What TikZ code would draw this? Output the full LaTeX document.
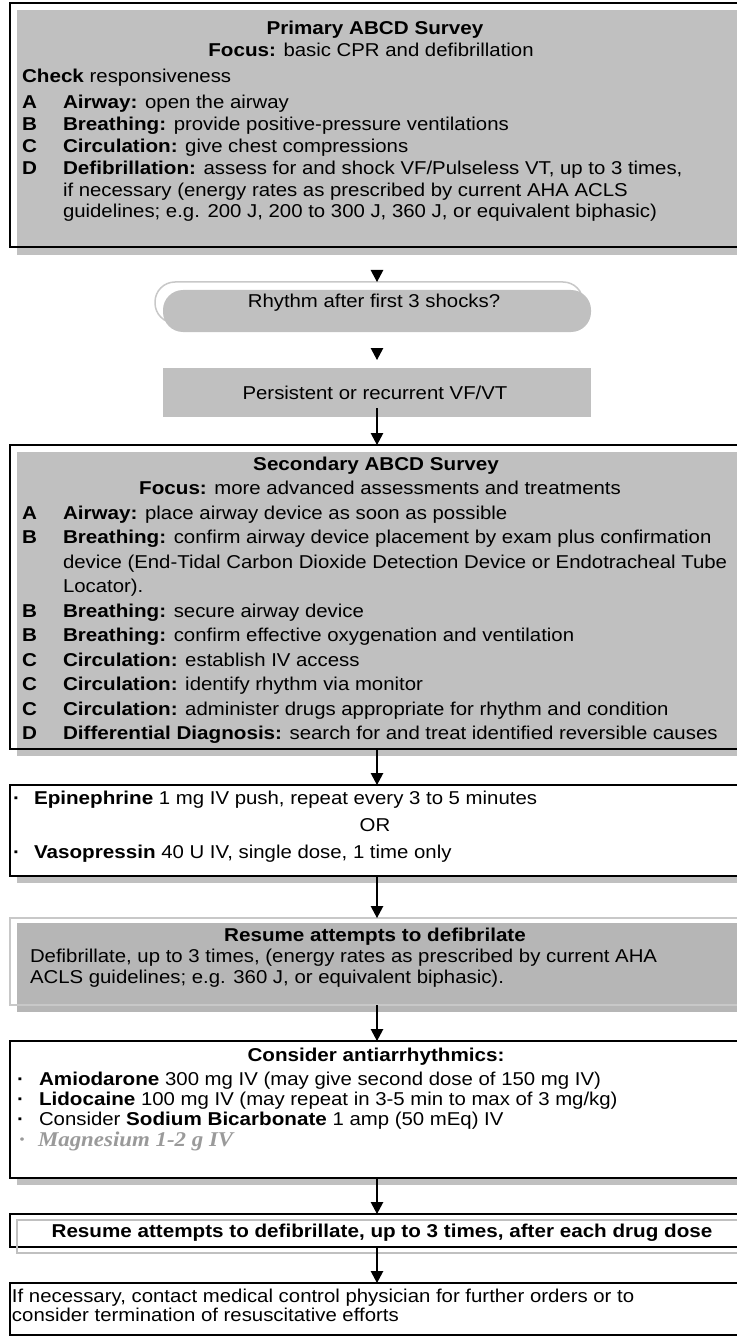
\documentclass[tikz,border=0pt]{standalone}
\usepackage{fontspec}
\setmainfont{Liberation Sans}[FakeStretch=1.095, BoldFeatures={FakeStretch=1.11}]
\newfontfamily\mgfont{Liberation Serif}[FakeStretch=1.09]
\usetikzlibrary{arrows.meta}
\definecolor{boxgray}{HTML}{C0C0C0}
\definecolor{boxgrayD}{HTML}{B6B6B6}
\definecolor{lightline}{HTML}{C8C8C8}
\definecolor{mggray}{HTML}{9A9A9A}
\begin{document}
\begin{tikzpicture}[x=1pt,y=-1pt,
  every node/.style={inner sep=0pt, outer sep=0pt},
  font=\fontsize{18.6}{22}\selectfont,
  bx/.style={draw=black, line width=2pt, anchor=north west},
  wbx/.style={bx, fill=white},
  ghost/.style={anchor=north west},
  txt/.style={anchor=base west},
  ctr/.style={anchor=base},
  conn/.style={line width=1.1pt, -{Triangle[length=12pt,width=12.5pt,color=black]}},
  tiponly/.style={conn, draw=white, shorten <=12pt},
  mg/.style={anchor=base west, text=mggray, font=\mgfont\fontsize{21}{24}\selectfont\bfseries\itshape}
]
\useasboundingbox (0,0) rectangle (736,1337);
\fill[white] (0,0) rectangle (736,1337);
\coordinate (ax) at (377,0);

% ---------- Primary ABCD Survey ----------
\fill[boxgray] (17,10) rectangle (750,255);
\node[bx, minimum width=740pt, minimum height=244pt] (prim) at (10,3) {};
\node[ctr] (p0) at (375,35) {\textbf{Primary ABCD Survey}};
\node[ctr] (p1) at (371,57) {\textbf{Focus:} basic CPR and defibrillation};
\node[txt] (p2) at (22,83) {\textbf{Check} responsiveness};
\node[txt] (pa) at (22,109) {\textbf{A}};
\node[txt] (pat) at (63,109) {\textbf{Airway:} open the airway};
\node[txt] (pb) at (22,131) {\textbf{B}};
\node[txt] (pbt) at (63,131) {\textbf{Breathing:} provide positive-pressure ventilations};
\node[txt] (pc) at (22,153) {\textbf{C}};
\node[txt] (pct) at (63,153) {\textbf{Circulation:} give chest compressions};
\node[txt] (pd) at (22,175) {\textbf{D}};
\node[txt] (pdt) at (63,175) {\textbf{Defibrillation:} assess for and shock VF/Pulseless VT, up to 3 times,};
\node[txt] (pd2) at (63,197) {if necessary (energy rates as prescribed by current AHA ACLS};
\node[txt] (pd3) at (63,218) {guidelines; e.g. 200 J, 200 to 300 J, 360 J, or equivalent biphasic)};

% ---------- Rhythm ----------
\node[draw=lightline, line width=1.5pt, rounded corners=20pt, anchor=north west,
      minimum width=428pt, minimum height=41pt] (rhy) at (155,282) {};
\fill[boxgray, rounded corners=20pt] (163,290) rectangle (591,332);
\node[ctr] (rhyT) at (374,308) {Rhythm after first 3 shocks?};

% ---------- Persistent ----------
\node[ghost, minimum width=428pt, minimum height=48pt] (pers) at (155,360) {};
\fill[boxgray] (163,368) rectangle (591,417);
\node[ctr] (persT) at (375,399) {Persistent or recurrent VF/VT};

% ---------- Secondary ABCD Survey ----------
\fill[boxgray] (17,452) rectangle (750,756);
\node[bx, minimum width=740pt, minimum height=304pt] (sec) at (10,445) {};
\node[ctr] (s0) at (376,470) {\textbf{Secondary ABCD Survey}};
\node[ctr] (s1) at (380,494.5) {\textbf{Focus:} more advanced assessments and treatments};
\node[txt] (sa) at (22,519) {\textbf{A}};
\node[txt] (sat) at (63,519) {\textbf{Airway:} place airway device as soon as possible};
\node[txt] (sb) at (22,543.5) {\textbf{B}};
\node[txt] (sbt) at (63,543.5) {\textbf{Breathing:} confirm airway device placement by exam plus confirmation};
\node[txt] (sb2) at (63,568) {device (End-Tidal Carbon Dioxide Detection Device or Endotracheal Tube};
\node[txt] (sb3) at (63,592.5) {Locator).};
\node[txt] (sc) at (22,617) {\textbf{B}};
\node[txt] (sct) at (63,617) {\textbf{Breathing:} secure airway device};
\node[txt] (sd) at (22,641.5) {\textbf{B}};
\node[txt] (sdt) at (63,641.5) {\textbf{Breathing:} confirm effective oxygenation and ventilation};
\node[txt] (se) at (22,666) {\textbf{C}};
\node[txt] (set) at (63,666) {\textbf{Circulation:} establish IV access};
\node[txt] (sf) at (22,690.5) {\textbf{C}};
\node[txt] (sft) at (63,690.5) {\textbf{Circulation:} identify rhythm via monitor};
\node[txt] (sg) at (22,715) {\textbf{C}};
\node[txt] (sgt) at (63,715) {\textbf{Circulation:} administer drugs appropriate for rhythm and condition};
\node[txt] (sh) at (22,739) {\textbf{D}};
\node[txt] (sht) at (63,739) {\textbf{Differential Diagnosis:} search for and treat identified reversible causes};

% ---------- Epinephrine / Vasopressin ----------
\fill[boxgray] (17,792) rectangle (750,883);
\node[wbx, minimum width=740pt, minimum height=91pt] (epi) at (10,785) {};
\node[txt] (e1d) at (13,804) {\textbf{·}};
\node[txt] (e1) at (34,804) {\textbf{Epinephrine} 1 mg IV push, repeat every 3 to 5 minutes};
\node[ctr] (eor) at (375,831) {OR};
\node[txt] (e2d) at (13,858) {\textbf{·}};
\node[txt] (e2) at (34,858) {\textbf{Vasopressin} 40 U IV, single dose, 1 time only};

% ---------- Resume attempts ----------
\fill[boxgrayD] (17,923) rectangle (750,1012);
\node[draw=lightline, line width=1.8pt, anchor=north west, minimum width=740pt, minimum height=87pt] (res) at (10,918) {};
\node[ctr] (r0) at (375,941) {\textbf{Resume attempts to defibrilate}};
\node[txt] (r1) at (30,962) {Defibrillate, up to 3 times, (energy rates as prescribed by current AHA};
\node[txt] (r2) at (30,983) {ACLS guidelines; e.g. 360 J, or equivalent biphasic).};

% ---------- Consider antiarrhythmics ----------
\fill[boxgray] (17,1048) rectangle (750,1185);
\node[wbx, minimum width=740pt, minimum height=137pt] (cons) at (10,1041) {};
\node[ctr] (c0) at (376,1061) {\textbf{Consider antiarrhythmics:}};
\node[txt] (c1d) at (17,1085) {\textbf{·}};
\node[txt] (c1) at (39,1085) {\textbf{Amiodarone} 300 mg IV (may give second dose of 150 mg IV)};
\node[txt] (c2d) at (17,1105) {\textbf{·}};
\node[txt] (c2) at (39,1105) {\textbf{Lidocaine} 100 mg IV (may repeat in 3-5 min to max of 3 mg/kg)};
\node[txt] (c3d) at (17,1125) {\textbf{·}};
\node[txt] (c3) at (39,1125) {Consider \textbf{Sodium Bicarbonate} 1 amp (50 mEq) IV};
\node[mg] (c4d) at (19,1146) {·};
\node[mg] (c4) at (38,1146) {Magnesium 1-2 g IV};

% ---------- Resume after each drug dose ----------
\node[wbx, minimum width=740pt, minimum height=33pt] (res2) at (10,1214) {};
\draw[boxgray, line width=2pt] (17,1220) rectangle (750,1253);
\node[ctr] (r2t) at (382,1237) {\textbf{Resume attempts to defibrillate, up to 3 times, after each drug dose}};

% ---------- Final ----------
\node[wbx, minimum width=740pt, minimum height=52pt] (fin) at (10,1283) {};
\node[txt] (f1) at (12,1302) {If necessary, contact medical control physician for further orders or to};
\node[txt] (f2) at (12,1321) {consider termination of resuscitative efforts};

% ---------- Connectors ----------
\draw[tiponly] (prim.south -| ax) -- (rhy.north -| ax);
\draw[tiponly] (rhy.south -| ax) -- (pers.north -| ax);
\draw[conn] (pers.south -| ax) -- (sec.north -| ax);
\draw[conn] (sec.south -| ax) -- (epi.north -| ax);
\draw[conn] (epi.south -| ax) -- (res.north -| ax);
\draw[conn] (res.south -| ax) -- (cons.north -| ax);
\draw[conn] (cons.south -| ax) -- (res2.north -| ax);
\draw[conn] (res2.south -| ax) -- (fin.north -| ax);
\end{tikzpicture}
\end{document}
